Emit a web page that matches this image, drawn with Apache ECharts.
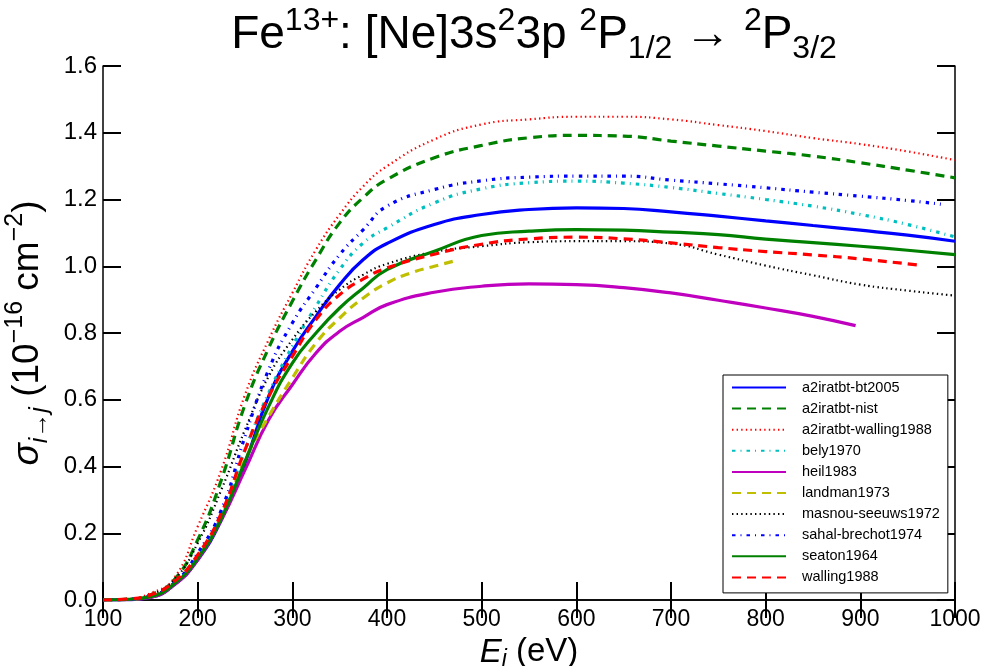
<!DOCTYPE html>
<html>
<head>
<meta charset="utf-8">
<script src="https://cdn.jsdelivr.net/npm/echarts@6/dist/echarts.min.js"></script>
<style>html,body{margin:0;padding:0;background:#fff}#c{width:985px;height:666px}</style>
</head>
<body>
<div id="c"></div>
<script>
// ---- data (energy in eV, cross section in 1e-16 cm^2) ----
const E_full = [100,125,150,175,200,225,250,275,300,325,350,375,400,450,500,550,600,650,700,750,800,850,900,950,1000];

const bt2005      = [0,0.001,0.008,0.045,0.12,0.24,0.41,0.61,0.745,0.85,0.945,1.02,1.068,1.125,1.155,1.17,1.175,1.173,1.163,1.15,1.136,1.122,1.108,1.093,1.075];
const nist        = [0,0.002,0.015,0.06,0.18,0.36,0.585,0.755,0.895,1.02,1.13,1.206,1.26,1.325,1.362,1.385,1.392,1.39,1.375,1.36,1.345,1.33,1.31,1.288,1.265];
const a2walling   = [0,0.003,0.02,0.065,0.22,0.39,0.615,0.78,0.92,1.05,1.155,1.24,1.30,1.38,1.425,1.44,1.448,1.448,1.44,1.423,1.405,1.384,1.366,1.344,1.318];
const bely        = [0,0.002,0.01,0.05,0.13,0.26,0.45,0.62,0.76,0.88,0.99,1.07,1.115,1.19,1.232,1.25,1.255,1.249,1.236,1.218,1.2,1.18,1.155,1.125,1.088];
const masnou      = [0,0.002,0.015,0.06,0.17,0.33,0.51,0.67,0.78,0.865,0.93,0.975,1.007,1.043,1.06,1.072,1.075,1.075,1.068,1.035,1.002,0.973,0.945,0.927,0.912];
const seaton      = [0,0.002,0.01,0.048,0.125,0.245,0.415,0.58,0.71,0.80,0.875,0.935,0.99,1.045,1.092,1.105,1.11,1.108,1.102,1.095,1.081,1.071,1.06,1.048,1.035];

const E_sahal = [100,125,150,175,200,225,250,275,300,325,350,375,400,450,500,550,600,650,700,750,800,850,900,950,985];
const sahal   = [0,0.002,0.012,0.05,0.14,0.27,0.49,0.69,0.83,0.935,1.035,1.11,1.18,1.23,1.256,1.267,1.27,1.27,1.258,1.247,1.235,1.222,1.21,1.197,1.186];

const E_walling = [100,125,150,175,200,225,250,275,300,325,350,375,400,450,500,550,600,650,700,750,800,850,900,960];
const walling   = [0,0.003,0.015,0.055,0.135,0.26,0.45,0.61,0.73,0.84,0.915,0.962,0.995,1.036,1.066,1.082,1.087,1.082,1.07,1.056,1.044,1.034,1.022,1.004];

const E_landman = [100,125,150,175,200,225,250,275,300,325,350,375,400,425,450,470];
const landman   = [0,0.002,0.01,0.05,0.13,0.25,0.42,0.55,0.665,0.77,0.845,0.905,0.95,0.98,1.0,1.015];

const E_heil = [100,125,150,175,200,225,250,275,300,325,350,375,400,450,500,550,600,650,700,750,800,850,895];
const heil   = [0,0.001,0.008,0.045,0.12,0.24,0.39,0.54,0.645,0.74,0.805,0.847,0.885,0.922,0.94,0.947,0.945,0.936,0.92,0.898,0.875,0.85,0.822];

const xTicks = [100,200,300,400,500,600,700,800,900,1000];
const yTicks = [0.0,0.2,0.4,0.6,0.8,1.0,1.2,1.4,1.6];

// ---- build ----
function pairs(xs, ys){ return xs.map((x,i)=>[x, ys[i]]); }

const defs = [
  {name:'a2iratbt-bt2005',      x:E_full,    y:bt2005,    color:'#0000ff', width:3.2, type:'solid'},
  {name:'a2iratbt-nist',        x:E_full,    y:nist,      color:'#008000', width:3.2, type:[9,6]},
  {name:'a2iratbt-walling1988', x:E_full,    y:a2walling, color:'#ff0000', width:2.2, type:[1.4,3.2]},
  {name:'bely1970',             x:E_full,    y:bely,      color:'#00bfbf', width:3.2, type:[3.5,5,1,5]},
  {name:'heil1983',             x:E_heil,    y:heil,      color:'#bf00bf', width:3.2, type:'solid'},
  {name:'landman1973',          x:E_landman, y:landman,   color:'#bfbf00', width:3.2, type:[9,6]},
  {name:'masnou-seeuws1972',    x:E_full,    y:masnou,    color:'#000000', width:2.2, type:[1.4,3.2]},
  {name:'sahal-brechot1974',    x:E_sahal,   y:sahal,     color:'#0000ff', width:3.2, type:[3.5,5,1,5]},
  {name:'seaton1964',           x:E_full,    y:seaton,    color:'#008000', width:3.2, type:'solid'},
  {name:'walling1988',          x:E_walling, y:walling,   color:'#ff0000', width:3.2, type:[9,6]}
];

const FONT = 'Liberation Sans, Arial, Helvetica, sans-serif';

const series = defs.map(d => ({
  name: d.name,
  type: 'line',
  data: pairs(d.x, d.y),
  xAxisIndex: 0, yAxisIndex: 0,
  showSymbol: false,
  symbol: 'none',
  smooth: 0.5,
  lineStyle: {color: d.color, width: d.width, type: d.type, cap: 'butt'},
  itemStyle: {color: d.color},
  emphasis: {disabled: true},
  animation: false
}));

const axisCommonX = {
  type: 'value', min: 100, max: 1000, interval: 100,
  axisLine: {show: true, lineStyle: {color: '#000', width: 1.5}},
  axisTick: {show: true, inside: true, length: 18, lineStyle: {color: '#000', width: 2}},
  splitLine: {show: false}
};
const axisCommonY = {
  type: 'value', min: 0, max: 1.6, interval: 0.2,
  axisLine: {show: true, lineStyle: {color: '#000', width: 1.5}},
  axisTick: {show: true, inside: true, length: 18, lineStyle: {color: '#000', width: 2}},
  splitLine: {show: false}
};

const chart = echarts.init(document.getElementById('c'), null, {renderer: 'canvas'});
chart.setOption({
  animation: false,
  backgroundColor: '#fff',
  title: {
    text: '{b|Fe}{sup|13+}{b|: [Ne]3s}{sup|2}{b|3p }{sup|2}{b|P}{sub|1/2}{b| → }{sup|2}{b|P}{sub|3/2}',
    left: 529, top: 0, textAlign: 'center',
    textStyle: {
      fontFamily: FONT, color: '#000', fontWeight: 'normal',
      rich: {
        b:   {fontFamily: FONT, fontSize: 46, fontWeight: 'normal', lineHeight: 60, verticalAlign: 'middle', color: '#000'},
        sup: {fontFamily: FONT, fontSize: 32, fontWeight: 'normal', lineHeight: 34, verticalAlign: 'top', color: '#000'},
        sub: {fontFamily: FONT, fontSize: 32, fontWeight: 'normal', lineHeight: 34, verticalAlign: 'bottom', color: '#000'}
      }
    }
  },
  grid: {left: 103, right: 30, top: 66, bottom: 66, containLabel: false, outerBoundsMode: 'none'},
  legend: {
    orient: 'vertical',
    left: 723, top: 375,
    data: defs.map(d => d.name),
    itemWidth: 54, itemHeight: 14, itemGap: 6.1,
    padding: [5, 8, 8, 8],
    itemStyle: {opacity: 0},
    backgroundColor: '#fff',
    borderColor: '#000', borderWidth: 1, borderRadius: 0,
    textStyle: {fontFamily: FONT, fontSize: 14.5, color: '#000', padding: [0,0,0,11]},
    selectedMode: false
  },
  xAxis: [
    Object.assign({}, axisCommonX, {
      position: 'bottom',
      axisLabel: {show: true, fontFamily: FONT, fontSize: 23, color: '#000', margin: 8,
                  formatter: v => String(v)},
      name: '{it|E}{sub|i}{b| (eV)}',
      nameLocation: 'middle', nameGap: 25,
      nameTextStyle: {
        rich: {
          b:   {fontFamily: FONT, fontSize: 33, lineHeight: 38, verticalAlign: 'middle', color: '#000'},
          it:  {fontFamily: FONT, fontSize: 33, fontStyle: 'italic', lineHeight: 38, verticalAlign: 'middle', color: '#000'},
          sub: {fontFamily: FONT, fontSize: 23, fontStyle: 'italic', lineHeight: 22, verticalAlign: 'bottom', color: '#000'}
        }
      }
    }),
    Object.assign({}, axisCommonX, {position: 'top', axisLabel: {show: false}})
  ],
  yAxis: [
    Object.assign({}, axisCommonY, {
      position: 'left',
      axisLabel: {show: true, fontFamily: FONT, fontSize: 24, color: '#000', margin: 6,
                  formatter: v => v.toFixed(1)},
      name: '{it|σ}{sub|i→j}{b| (10}{sup|−16}{b| cm}{sup|−2}{b|)}',
      nameLocation: 'middle', nameRotate: 90, nameGap: 39,
      nameTextStyle: {
        rich: {
          b:   {fontFamily: FONT, fontSize: 37, lineHeight: 50, verticalAlign: 'middle', color: '#000'},
          it:  {fontFamily: FONT, fontSize: 37, fontStyle: 'italic', lineHeight: 50, verticalAlign: 'middle', color: '#000'},
          sup: {fontFamily: FONT, fontSize: 25, lineHeight: 28, verticalAlign: 'top', color: '#000'},
          sub: {fontFamily: FONT, fontSize: 25, fontStyle: 'italic', lineHeight: 28, verticalAlign: 'bottom', color: '#000'}
        }
      }
    }),
    Object.assign({}, axisCommonY, {position: 'right', axisLabel: {show: false}})
  ],
  series: series
});
</script>
</body>
</html>
